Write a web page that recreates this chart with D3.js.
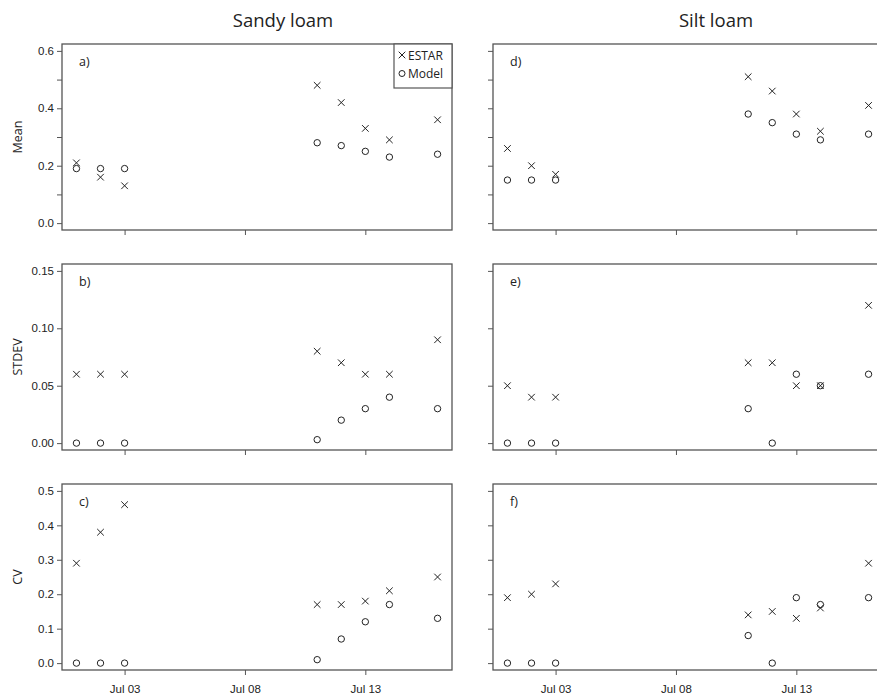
<!DOCTYPE html>
<html>
<head>
<meta charset="utf-8">
<script src="https://cdn.jsdelivr.net/npm/d3@7"></script>
<style>
  body { margin: 0; background: #fff; }
  svg { display: block; font-family: "Open Sans", "DejaVu Sans", sans-serif; }
  .tick text { font-size: 11.5px; fill: #222; }
</style>
</head>
<body>
<svg id="chart" width="877" height="699"></svg>
<script>
// Sampling dates (July)
const dates = ["2011-07-01", "2011-07-02", "2011-07-03", "2011-07-11", "2011-07-12", "2011-07-13", "2011-07-14", "2011-07-16"];
const dateTicks = ["2011-07-03", "2011-07-08", "2011-07-13"];

// Sandy loam
const sandyMeanEstar = [0.21, 0.16, 0.13, 0.48, 0.42, 0.33, 0.29, 0.36];
const sandyMeanModel = [0.19, 0.19, 0.19, 0.28, 0.27, 0.25, 0.23, 0.24];
const sandySdEstar = [0.06, 0.06, 0.06, 0.08, 0.07, 0.06, 0.06, 0.09];
const sandySdModel = [0.00, 0.00, 0.00, 0.003, 0.02, 0.03, 0.04, 0.03];
const sandyCvEstar = [0.29, 0.38, 0.46, 0.17, 0.17, 0.18, 0.21, 0.25];
const sandyCvModel = [0.00, 0.00, 0.00, 0.01, 0.07, 0.12, 0.17, 0.13];

// Silt loam
const siltMeanEstar = [0.26, 0.20, 0.17, 0.51, 0.46, 0.38, 0.32, 0.41];
const siltMeanModel = [0.15, 0.15, 0.15, 0.38, 0.35, 0.31, 0.29, 0.31];
const siltSdEstar = [0.05, 0.04, 0.04, 0.07, 0.07, 0.05, 0.05, 0.12];
const siltSdModel = [0.00, 0.00, 0.00, 0.03, 0.00, 0.06, 0.05, 0.06];
const siltCvEstar = [0.19, 0.20, 0.23, 0.14, 0.15, 0.13, 0.16, 0.29];
const siltCvModel = [0.00, 0.00, 0.00, 0.08, 0.00, 0.19, 0.17, 0.19];

// Y-axis settings per row
const meanTicks = [0, 0.1, 0.2, 0.3, 0.4, 0.5, 0.6];
const meanLabels = ["0.0", "", "0.2", "", "0.4", "", "0.6"];
const sdTicks = [0, 0.05, 0.10, 0.15];
const sdLabels = ["0.00", "0.05", "0.10", "0.15"];
const cvTicks = [0, 0.1, 0.2, 0.3, 0.4, 0.5];
const cvLabels = ["0.0", "0.1", "0.2", "0.3", "0.4", "0.5"];

const columnTitles = ["Sandy loam", "Silt loam"];
const rowTitles = ["Mean", "STDEV", "CV"];
const legendLabels = ["ESTAR", "Model"];

const parse = d3.utcParse("%Y-%m-%d");
const dateVals = dates.map(parse);
const tickDates = dateTicks.map(parse);

const rows = [
  { title: rowTitles[0], ymax: 0.6, ticks: meanTicks, labels: meanLabels, top: 44 },
  { title: rowTitles[1], ymax: 0.15, ticks: sdTicks, labels: sdLabels, top: 264 },
  { title: rowTitles[2], ymax: 0.5, ticks: cvTicks, labels: cvLabels, top: 484 }
];
const cols = [
  { title: columnTitles[0], left: 62, titleX: 283, series: [[sandyMeanEstar, sandyMeanModel], [sandySdEstar, sandySdModel], [sandyCvEstar, sandyCvModel]], tags: ["a)", "b)", "c)"] },
  { title: columnTitles[1], left: 493, titleX: 716, series: [[siltMeanEstar, siltMeanModel], [siltSdEstar, siltSdModel], [siltCvEstar, siltCvModel]], tags: ["d)", "e)", "f)"] }
];

const panelW = 390, panelH = 186;
const ink = "#222";
const frame = "#555";

const svg = d3.select("#chart");

// Date domain padded by 4% on each side
const day = 86400000;
const span = dateVals[dateVals.length - 1] - dateVals[0];
const x = d3.scaleUtc()
  .domain([new Date(+dateVals[0] - span * 0.04), new Date(+dateVals[dateVals.length - 1] + span * 0.04)])
  .range([0, panelW]);

function crossPath(s) {
  return `M${-s},${-s}L${s},${s}M${-s},${s}L${s},${-s}`;
}

cols.forEach((col, ci) => {
  svg.append("text")
    .attr("x", col.titleX).attr("y", 27)
    .attr("text-anchor", "middle")
    .attr("font-size", 18.5)
    .attr("fill", ink)
    .text(col.title);

  rows.forEach((row, ri) => {
    const g = svg.append("g").attr("transform", `translate(${col.left},${row.top})`);
    const pad = row.ymax * 0.04;
    const y = d3.scaleLinear().domain([-pad, row.ymax + pad]).range([panelH, 0]);

    // Frame
    g.append("rect")
      .attr("width", panelW).attr("height", panelH)
      .attr("fill", "none").attr("stroke", frame).attr("stroke-width", 1.3);

    // Y axis
    const yAxis = d3.axisLeft(y)
      .tickValues(row.ticks)
      .tickSize(5)
      .tickPadding(3)
      .tickFormat((d, i) => ci === 0 ? row.labels[i] : "");
    const ya = g.append("g").call(yAxis);
    ya.select(".domain").remove();
    ya.selectAll(".tick line").attr("stroke", frame);

    // X axis
    const xAxis = d3.axisBottom(x)
      .tickValues(tickDates)
      .tickSize(5)
      .tickPadding(10)
      .tickFormat(ri === 2 ? d3.utcFormat("%b %d") : () => "");
    const xa = g.append("g").attr("transform", `translate(0,${panelH})`).call(xAxis);
    xa.select(".domain").remove();
    xa.selectAll(".tick line").attr("stroke", frame);
    xa.selectAll(".tick text").attr("font-size", 12.5);

    // Panel tag
    g.append("text")
      .attr("x", 17).attr("y", 22)
      .attr("font-size", 12.5).attr("fill", ink)
      .text(col.tags[ri]);

    const [est, mod] = col.series[ri];

    // Model: open circles
    g.selectAll("circle.model")
      .data(mod)
      .join("circle")
      .attr("class", "model")
      .attr("cx", (d, i) => x(dateVals[i]))
      .attr("cy", d => y(d))
      .attr("r", 3.2)
      .attr("fill", "none")
      .attr("stroke", ink)
      .attr("stroke-width", 1);

    // ESTAR: crosses
    g.selectAll("path.estar")
      .data(est)
      .join("path")
      .attr("class", "estar")
      .attr("transform", (d, i) => `translate(${x(dateVals[i])},${y(d)})`)
      .attr("d", crossPath(3.3))
      .attr("fill", "none")
      .attr("stroke", ink)
      .attr("stroke-width", 1);

    // Row title
    if (ci === 0) {
      svg.append("text")
        .attr("transform", `translate(22,${row.top + panelH / 2}) rotate(-90)`)
        .attr("text-anchor", "middle")
        .attr("font-size", 12.5)
        .attr("fill", ink)
        .text(row.title);
    }
  });
});

// Legend in panel a)
const lg = svg.append("g").attr("transform", "translate(394,44)");
lg.append("rect")
  .attr("width", 58).attr("height", 44)
  .attr("fill", "#fff").attr("stroke", frame).attr("stroke-width", 1.2);
lg.append("path")
  .attr("transform", "translate(8,11)")
  .attr("d", crossPath(3.3))
  .attr("stroke", ink).attr("fill", "none");
lg.append("text").attr("x", 14).attr("y", 15.5).attr("font-size", 12).attr("fill", ink).text(legendLabels[0]);
lg.append("circle")
  .attr("cx", 8).attr("cy", 29.5).attr("r", 3)
  .attr("stroke", ink).attr("fill", "none");
lg.append("text").attr("x", 14).attr("y", 34).attr("font-size", 12).attr("fill", ink).text(legendLabels[1]);
</script>
</body>
</html>
